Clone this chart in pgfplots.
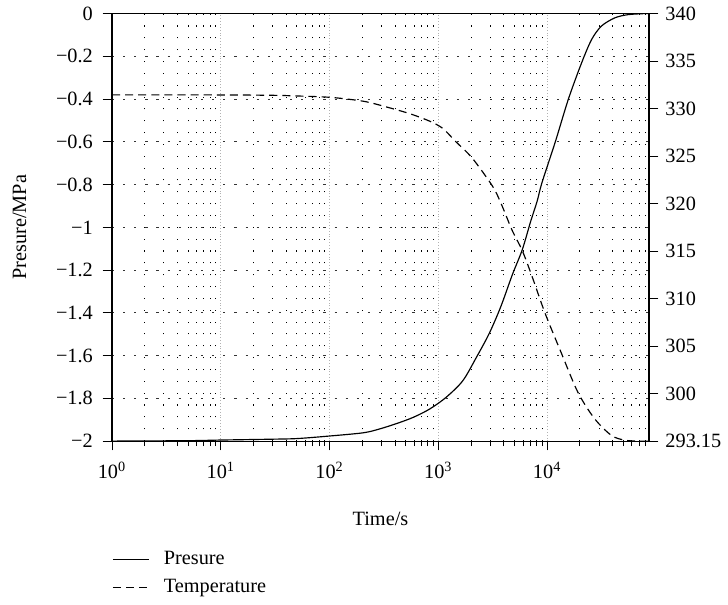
\documentclass[border=0pt]{standalone}
\usepackage{fontspec}
\setmainfont{Liberation Serif}
\usepackage{pgfplots}
\pgfplotsset{compat=1.18}
\usetikzlibrary{calc}

\pgfplotstableread{
t       p
1       -2.000
5       -1.998
10      -1.995
30      -1.991
50.7    -1.988
101     -1.976
205     -1.961
289     -1.943
413     -1.918
587     -1.889
832     -1.850
1180    -1.795
1676    -1.718
2217    -1.612
2932    -1.497
3745    -1.372
4786    -1.222
5907    -1.105
7030    -0.975
8090    -0.878
8980    -0.790
11890   -0.600
15710   -0.399
20800   -0.229
25660   -0.121
31620   -0.058
41900   -0.020
55300   -0.005
78500   0.000
86400   0.000
}\presdata

\pgfplotstableread{
t       T
1       331.45
10      331.44
30      331.40
50.7    331.33
103     331.18
206     330.77
334     330.17
545     329.47
832     328.68
1100    327.91
1445    326.53
2050    324.79
3146    321.84
3745    320.10
4786    317.15
5907    315.06
7300    312.28
9570    308.47
13480   304.30
19200   300.13
27350   297.35
39000   295.60
52000   295.09
70000   295.00
86400   295.00
}\tempdata

\begin{document}
\fontsize{11.3}{13.5}\selectfont
\begin{tikzpicture}
\begin{axis}[
    name=main,
    width=298.1bp, height=237.3bp, scale only axis,
    xmode=log, xmin=1, xmax=86400,
    ymin=-2, ymax=0,
    xtick={1,10,100,1000,10000},
    xticklabels={10\textsuperscript{0},10\textsuperscript{1},10\textsuperscript{2},10\textsuperscript{3},10\textsuperscript{4}},
    minor xtick={2,3,4,5,6,7,8,9,20,30,40,50,60,70,80,90,200,300,400,500,600,700,800,900,2000,3000,4000,5000,6000,7000,8000,9000,20000,30000,40000,50000,60000,70000,80000},
    ytick={-2,-1.8,-1.6,-1.4,-1.2,-1,-0.8,-0.6,-0.4,-0.2,0},
    yticklabels={−2,−1.8,−1.6,−1.4,−1.2,−1,−0.8,−0.6,−0.4,−0.2,0},
    xtick pos=bottom, ytick pos=left,
    tick align=outside,
    major tick length=5.2bp, minor tick length=2.8bp,
    tick style={black, line width=0.5pt},
    axis line style={line width=0.6pt},
    grid=both,
    major x grid style={gray!60, dash pattern=on 0.4pt off 1.2pt, line width=0.4pt},
    minor x grid style={black, dash pattern=on 0.6pt off 6pt, line width=0.5pt},
    major y grid style={black!80, dash pattern=on 1.2pt off 5pt, line width=0.5pt},
    ticklabel style={font=\fontsize{11.3}{13.5}\selectfont},
    xticklabel style={yshift=-2.5bp},
    yticklabel style={xshift=-1.5bp},
    xlabel={Time/s},
    ylabel={Presure/MPa},
    every axis x label/.style={at={(axis description cs:0.5,-0.181)}, anchor=center},
    every axis y label/.style={at={(axis description cs:-0.172,0.5)}, rotate=90, anchor=center},
]
\addplot[black, line width=0.65pt, smooth] table[x=t, y=p] {\presdata};
\end{axis}

\begin{axis}[
    width=298.1bp, height=237.3bp, scale only axis,
    xmode=log, xmin=1, xmax=86400,
    ymin=295, ymax=340,
    axis x line=none,
    axis y line*=right,
    ytick={295,300,305,310,315,320,325,330,335,340},
    yticklabels={293.15,300,305,310,315,320,325,330,335,340},
    tick align=outside,
    major tick length=5.2bp,
    tick style={black, line width=0.5pt},
    axis line style={line width=0.6pt},
    ticklabel style={font=\fontsize{11.3}{13.5}\selectfont},
    legend style={at={(axis description cs:0,-0.248)}, anchor=north west,
        draw=none, fill=none, font=\fontsize{11.3}{13.5}\selectfont,
        row sep=2.5bp, inner sep=0pt},
    legend cell align=left,
    legend image code/.code={\draw[#1] (0bp,0bp) -- (20bp,0bp); \path (26bp,0bp);},
]
\addlegendimage{black, line width=0.65pt}
\addlegendentry{Presure}
\addplot[black, line width=0.65pt, smooth, dash pattern=on 4.5pt off 2.8pt] table[x=t, y=T] {\tempdata};
\addlegendentry{Temperature}
\end{axis}

\path ($(main.south west)+(-62.15bp,-90.75bp)$) rectangle ($(main.north east)+(40.15bp,5.9bp)$);
\end{tikzpicture}
\end{document}
